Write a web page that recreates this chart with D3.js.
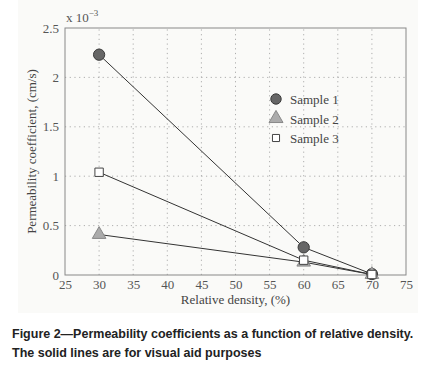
<!DOCTYPE html>
<html>
<head>
<meta charset="utf-8">
<script src="https://cdn.jsdelivr.net/npm/d3@7"></script>
<style>
  body { margin: 0; background: #fff; }
  svg { display: block; }
</style>
</head>
<body>
<div id="chart"></div>
<script>
// relative density (%) on x, permeability (x 10^-3 cm/s) on y
const density = [30, 60, 70];
const sample1 = [2.23, 0.28, 0.01];
const sample2 = [0.41, 0.13, 0.005];
const sample3 = [1.04, 0.15, 0.005];
const seriesNames = ["Sample 1", "Sample 2", "Sample 3"];
const xTicks = [25, 30, 35, 40, 45, 50, 55, 60, 65, 70, 75];
const yTicks = [0, 0.5, 1, 1.5, 2, 2.5];
const captionLines = [
  "Figure 2\u2014Permeability coefficients as a function of relative density.",
  "The solid lines are for visual aid purposes"
];

const W = 421, H = 369;
const margin = { top: 28, right: 15, bottom: 94, left: 65 };

const svg = d3.select("#chart").append("svg")
  .attr("width", W)
  .attr("height", H);

// light panel behind the plot
svg.append("rect")
  .attr("x", 18).attr("y", 0)
  .attr("width", 400).attr("height", 313)
  .attr("fill", "#fafaf8");

const x = d3.scaleLinear().domain([25, 75]).range([margin.left, W - margin.right]);
const y = d3.scaleLinear().domain([0, 2.5]).range([H - margin.bottom, margin.top]);

const serif = "'Liberation Serif', 'Times New Roman', serif";
const tickColor = "#555";

// grid
const grid = svg.append("g")
  .attr("stroke", "#9a9a9a")
  .attr("stroke-width", 0.8)
  .attr("stroke-dasharray", "1.2,3.5");
grid.selectAll(".gx").data(xTicks.slice(1, -1)).enter().append("line")
  .attr("x1", d => x(d)).attr("x2", d => x(d))
  .attr("y1", y(0)).attr("y2", y(2.5));
grid.selectAll(".gy").data(yTicks.slice(1, -1)).enter().append("line")
  .attr("x1", x(25)).attr("x2", x(75))
  .attr("y1", d => y(d)).attr("y2", d => y(d));

// axes
const xAxis = svg.append("g")
  .attr("transform", `translate(0,${y(0)})`)
  .call(d3.axisBottom(x).tickValues(xTicks).tickSize(0).tickPadding(5));
const yAxis = svg.append("g")
  .attr("transform", `translate(${x(25)},0)`)
  .call(d3.axisLeft(y).tickValues(yTicks).tickSize(0).tickPadding(6).tickFormat(d3.format("")));
[xAxis, yAxis].forEach(a => {
  a.select(".domain").remove();
  a.selectAll("text")
    .attr("fill", tickColor)
    .style("font-family", serif)
    .style("font-size", "13px");
});

// box
svg.append("rect")
  .attr("x", x(25)).attr("y", y(2.5))
  .attr("width", x(75) - x(25)).attr("height", y(0) - y(2.5))
  .attr("fill", "none")
  .attr("stroke", "#888")
  .attr("stroke-width", 1);

// exponent label
const expo = svg.append("text")
  .attr("x", x(25) + 1).attr("y", y(2.5) - 6)
  .attr("fill", tickColor)
  .style("font-family", serif)
  .style("font-size", "13px");
expo.append("tspan").text("x 10");
expo.append("tspan").attr("dy", -6).style("font-size", "9px").text("\u22123");

// axis titles
svg.append("text")
  .attr("x", (x(25) + x(75)) / 2).attr("y", 304)
  .attr("text-anchor", "middle")
  .attr("fill", "#444")
  .style("font-family", serif)
  .style("font-size", "13px")
  .text("Relative density, (%)");

svg.append("text")
  .attr("transform", `translate(36,${(y(0) + y(2.5)) / 2}) rotate(-90)`)
  .attr("text-anchor", "middle")
  .attr("fill", "#444")
  .style("font-family", serif)
  .style("font-size", "13px")
  .text("Permeability coefficient, (cm/s)");

// lines
const series = [sample1, sample2, sample3];
const line = d3.line()
  .x((d, i) => x(density[i]))
  .y(d => y(d));
svg.append("g").selectAll("path").data(series).enter().append("path")
  .attr("d", line)
  .attr("fill", "none")
  .attr("stroke", "#333")
  .attr("stroke-width", 1);

// markers
const sym = [
  { type: d3.symbolCircle, size: 100, fill: "#666", stroke: "#3a3a3a" },
  { type: d3.symbolTriangle, size: 80, fill: "#ababab", stroke: "#888" },
  { type: d3.symbolSquare, size: 70, fill: "#fff", stroke: "#444" }
];
series.forEach((s, k) => {
  svg.append("g").selectAll("path").data(s).enter().append("path")
    .attr("transform", (d, i) => `translate(${x(density[i])},${y(d)})`)
    .attr("d", d3.symbol().type(sym[k].type).size(sym[k].size))
    .attr("fill", sym[k].fill)
    .attr("stroke", sym[k].stroke)
    .attr("stroke-width", 1);
});

// legend
const legend = svg.append("g").attr("transform", "translate(276,99)");
seriesNames.forEach((name, k) => {
  const row = legend.append("g").attr("transform", `translate(0,${k * 19.5})`);
  row.append("path")
    .attr("d", d3.symbol().type(sym[k].type).size(k === 2 ? 50 : 85))
    .attr("fill", sym[k].fill)
    .attr("stroke", sym[k].stroke);
  row.append("text")
    .attr("x", 14).attr("y", 5)
    .attr("fill", "#444")
    .style("font-family", serif)
    .style("font-size", "13px")
    .text(name);
});

// caption
svg.append("g").selectAll("text").data(captionLines).enter().append("text")
  .attr("x", 12)
  .attr("y", (d, i) => 338 + i * 19)
  .attr("fill", "#222")
  .style("font-family", "'Liberation Sans', Arial, sans-serif")
  .style("font-weight", "bold")
  .style("font-size", "12.5px")
  .text(d => d);
</script>
</body>
</html>
